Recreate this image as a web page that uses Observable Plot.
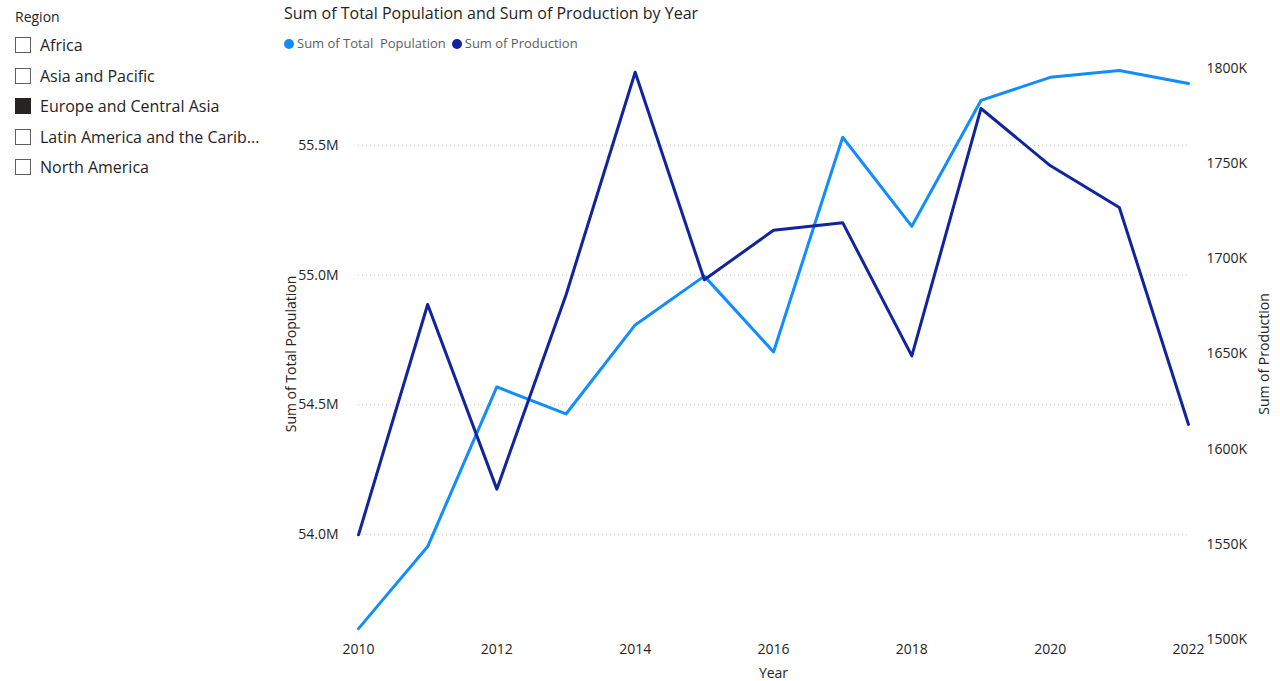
<!DOCTYPE html>
<html><head><meta charset="utf-8">
<script src="https://cdn.jsdelivr.net/npm/d3@7"></script>
<script src="https://cdn.jsdelivr.net/npm/@observablehq/plot@0.6"></script>
<style>
body{margin:0;width:1280px;height:681px;overflow:hidden;font-family:"Open Sans",sans-serif;background:#fff;position:relative}
#slicer{position:absolute;left:15px;top:7px;font-size:16px;color:#252423}
#slicer .h{font-size:14px;margin-bottom:4px}
.it{display:flex;align-items:center;height:30.5px}
.box{width:16px;height:16px;border:1px solid #605e5c;margin-right:9px;box-sizing:border-box}
.box.on{background:#252423;border-color:#252423}
#title{position:absolute;left:284px;top:2px;font-size:16px;color:#252423}
#legend{position:absolute;left:284px;top:34px;font-size:13px;color:#605e5c;display:flex;gap:6px}
.dot{display:inline-block;width:10px;height:10px;border-radius:50%;margin-right:3px;vertical-align:-1px}
#chart{position:absolute;left:280px;top:60px}
</style></head><body>
<div id="slicer"></div>
<div id="title">Sum of Total Population and Sum of Production by Year</div>
<div id="legend"><span><span class="dot" style="background:#118DFF"></span>Sum of Total&nbsp; Population</span><span><span class="dot" style="background:#12239E"></span>Sum of Production</span></div>
<div id="chart"></div>
<script>
const regions=["Africa","Asia and Pacific","Europe and Central Asia","Latin America and the Carib...","North America"];
const selected=["Europe and Central Asia"];
const years=[2010,2011,2012,2013,2014,2015,2016,2017,2018,2019,2020,2021,2022];
const population=[53.638,53.954,54.569,54.465,54.808,54.996,54.704,55.531,55.188,55.673,55.762,55.788,55.738];
const production=[1555,1676,1579,1681,1798,1689,1715,1719,1649,1779,1749,1727,1613];
const popTicks=[54.0,54.5,55.0,55.5];
const prodTicks=[1500,1550,1600,1650,1700,1750,1800];

const s=document.getElementById("slicer");
s.innerHTML='<div class="h">Region</div>'+regions.map(r=>`<div class="it"><div class="box${selected.includes(r)?" on":""}"></div>${r}</div>`).join("");

const popDom=[53.596,55.796], prodDom=[1500,1800];
const map=d3.scaleLinear().domain(prodDom).range(popDom);
const data=years.map((y,i)=>({year:y,pop:population[i],prod:map(production[i])}));

const chart=Plot.plot({
  width:1000,height:621,marginLeft:78,marginRight:92,marginTop:8,marginBottom:42,
  style:{fontFamily:"Open Sans, sans-serif",fontSize:"11.5px",color:"#605e5c"},
  x:{domain:[2010,2022]},
  y:{domain:popDom},
  marks:[
    Plot.gridY(popTicks,{stroke:"#c8c6c4",strokeDasharray:"1,3",strokeOpacity:1}),
    Plot.axisX(d3.range(2010,2023,2),{tickSize:0,tickPadding:5,tickFormat:d=>String(d),label:"Year",labelAnchor:"center",labelArrow:"none",labelOffset:38}),
    Plot.axisY(popTicks,{tickSize:0,tickFormat:d=>d.toFixed(1)+"M",label:"Sum of Total Population",labelAnchor:"center",labelArrow:"none",labelOffset:72,tickPadding:20}),
    Plot.axisY(prodTicks.map(map),{anchor:"right",tickSize:0,tickFormat:d=>Math.round(map.invert(d))+"K",label:"Sum of Production",labelAnchor:"center",labelArrow:"none",labelOffset:80,tickPadding:18}),
    Plot.line(data,{x:"year",y:"pop",stroke:"#118DFF",strokeWidth:3}),
    Plot.line(data,{x:"year",y:"prod",stroke:"#12239E",strokeWidth:3})
  ]
});
chart.querySelectorAll("g[aria-label$='label'] text").forEach(t=>{t.style.fontSize="14px";t.style.fill="#252423"});
document.getElementById("chart").appendChild(chart);
</script></body></html>
